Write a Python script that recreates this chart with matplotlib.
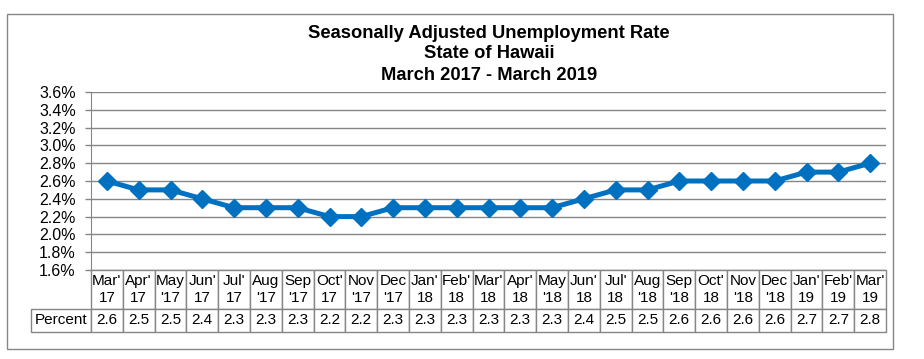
import matplotlib
matplotlib.use("Agg")
import matplotlib.pyplot as plt
from matplotlib.patches import Rectangle

# ── data ───────────────────────────────────────────────────────────────────────
months = ["Mar'\n17", "Apr'\n17", "May\n'17", "Jun'\n17", "Jul'\n17", "Aug\n'17",
          "Sep\n'17", "Oct'\n17", "Nov\n'17", "Dec\n'17", "Jan'\n18", "Feb'\n18",
          "Mar'\n18", "Apr'\n18", "May\n'18", "Jun'\n18", "Jul'\n18", "Aug\n'18",
          "Sep\n'18", "Oct'\n18", "Nov\n'18", "Dec\n'18", "Jan'\n19", "Feb'\n19",
          "Mar'\n19"]
rate = [2.6, 2.5, 2.5, 2.4, 2.3, 2.3, 2.3, 2.2, 2.2, 2.3, 2.3, 2.3, 2.3,
        2.3, 2.3, 2.4, 2.5, 2.5, 2.6, 2.6, 2.6, 2.6, 2.7, 2.7, 2.8]
yticks = [1.6, 1.8, 2.0, 2.2, 2.4, 2.6, 2.8, 3.0, 3.2, 3.4, 3.6]
row_label = "Percent"

# ── figure ─────────────────────────────────────────────────────────────────────
plt.rcParams["font.family"] = ["Liberation Sans", "DejaVu Sans"]
W, H = 924, 359
fig = plt.figure(figsize=(W / 100, H / 100), dpi=100)
GRAY = "#868686"
BLUE = "#0070C0"

def px(x0, y0, x1, y1):
    return [x0 / W, 1 - y1 / H, (x1 - x0) / W, (y1 - y0) / H]

ax = fig.add_axes(px(91, 92, 886, 270))
x = list(range(len(rate)))
ax.plot(x, rate, color=BLUE, lw=3.6, marker="D", ms=9, mec=BLUE, mfc=BLUE,
        clip_on=False, zorder=3)
ax.set_xlim(-0.5, len(rate) - 0.5)
ax.set_ylim(1.6, 3.6)
ax.set_yticks(yticks)
ax.set_yticklabels([f"{v:.1f}%" for v in yticks], fontsize=11.5)
ax.set_xticks([])
ax.yaxis.grid(True, color=GRAY, lw=1)
ax.set_axisbelow(True)
for s in ["top", "right", "bottom"]:
    ax.spines[s].set_visible(False)
ax.spines["left"].set_color(GRAY)
ax.tick_params(axis="y", length=4, width=1, color=GRAY, pad=7)

# ── data table ────────────────────────────────────────────────────────────────
cells = [[row_label] + [f"{v:.1f}" for v in rate]]
cols = [""] + months
ah = 270 - 92
tbl = ax.table(cellText=cells, colLabels=cols, cellLoc="center",
               bbox=[(31 - 91) / 795, -62 / ah, (886 - 31) / 795, 62 / ah])
tbl.auto_set_font_size(False)
tbl.set_fontsize(11)
for (r, c), cell in tbl.get_celld().items():
    cell.set_edgecolor(GRAY)
    cell.set_linewidth(1)
    cell.set_width(60 if c == 0 else 31.8)
    cell.set_height(39 if r == 0 else 23)
    cell.PAD = 0.02
    if r == 0 and c == 0:
        cell.visible_edges = ""

# ── title and frame ────────────────────────────────────────────────────────────
title_lines = ["Seasonally Adjusted Unemployment Rate", "State of Hawaii",
               "March 2017 - March 2019"]
for line, yy in zip(title_lines, [33, 53, 75]):
    fig.text(489 / W, 1 - yy / H, line, ha="center", va="center",
             fontsize=13.2, fontweight="bold")

fig.patches.append(Rectangle((7 / W, 1 - 349 / H), 886 / W, 335 / H,
                             transform=fig.transFigure, fill=False,
                             edgecolor=GRAY, lw=1))

fig.savefig("out.png", dpi=100)
